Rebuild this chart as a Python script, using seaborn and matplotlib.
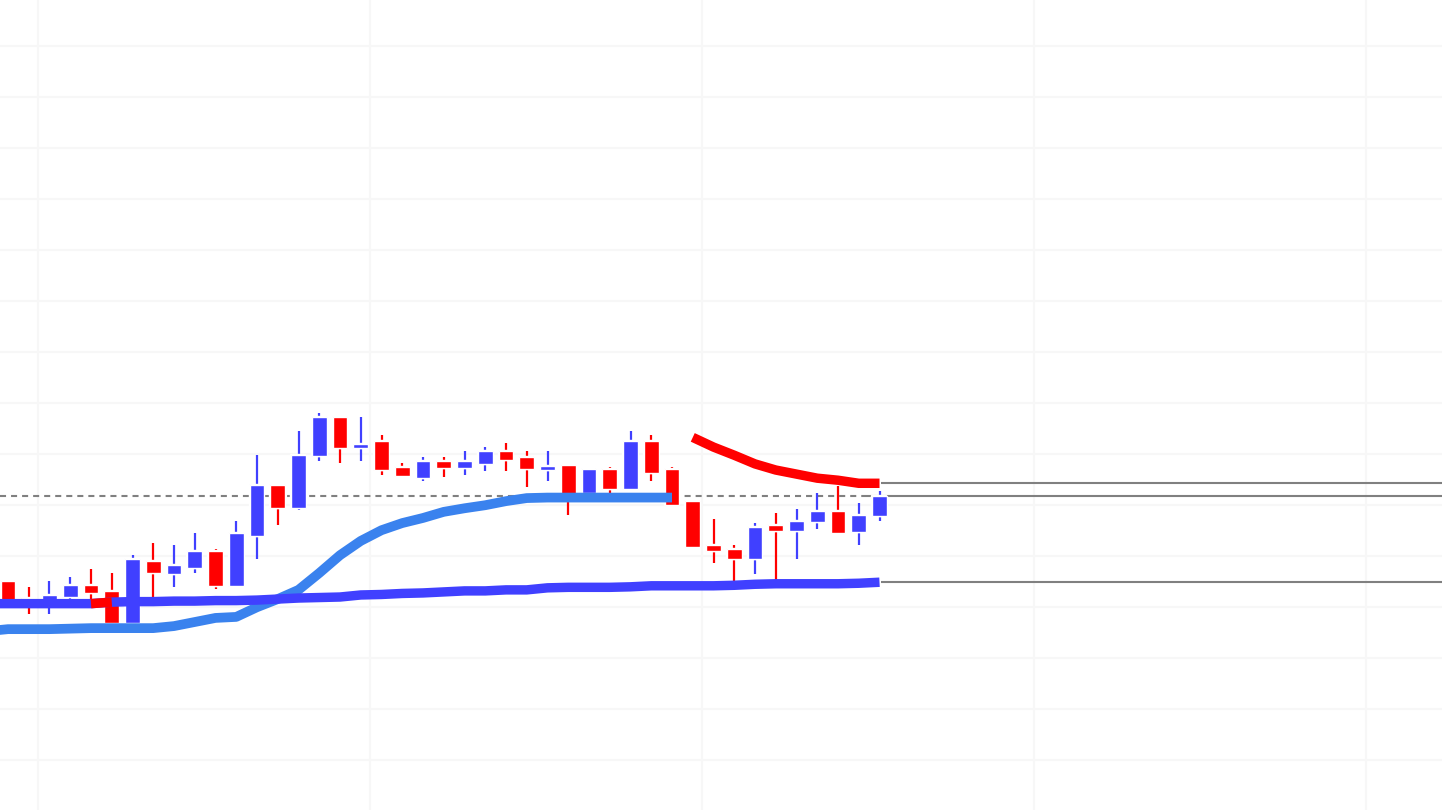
import numpy as np
import pandas as pd
import seaborn as sns
import matplotlib.pyplot as plt

# candles, oldest first
opens = [98.50, 98.17, 98.11, 98.19, 98.43, 98.31, 97.68, 98.90, 98.64, 98.76,
         99.09, 98.41, 99.39, 100.39, 99.94, 100.96, 101.72, 101.11, 101.25, 100.74,
         100.52, 100.86, 100.72, 100.80, 101.05, 100.94, 100.68, 100.78, 100.23, 100.70,
         100.31, 101.25, 100.70, 100.07, 99.21, 99.13, 98.94, 99.60, 99.48, 99.66,
         99.88, 99.46, 99.78]
highs = [98.50, 98.39, 98.50, 98.58, 98.74, 98.66, 99.01, 99.25, 99.21, 99.45,
         99.13, 99.68, 100.97, 100.39, 101.45, 101.80, 101.72, 101.72, 101.37, 100.82,
         100.94, 100.94, 101.05, 101.13, 101.21, 101.05, 101.05, 100.78, 100.70, 100.74,
         101.45, 101.37, 100.74, 100.07, 99.72, 99.21, 99.64, 99.84, 99.92, 100.23,
         100.37, 100.03, 100.27]
lows = [98.07, 97.86, 97.86, 98.13, 98.03, 97.68, 97.66, 98.19, 98.39, 98.66,
        98.35, 98.39, 98.94, 99.60, 99.90, 100.86, 100.82, 100.86, 100.58, 100.54,
        100.46, 100.54, 100.58, 100.66, 100.66, 100.35, 100.46, 99.80, 100.23, 100.23,
        100.31, 100.46, 99.99, 99.17, 98.86, 98.48, 98.64, 98.52, 98.94, 99.52,
        99.43, 99.21, 99.68]
closes = [98.07, 98.11, 98.23, 98.43, 98.27, 97.68, 98.94, 98.66, 98.82, 99.09,
          98.41, 99.45, 100.39, 99.94, 100.97, 101.72, 101.11, 101.19, 100.68, 100.56,
          100.86, 100.72, 100.86, 101.05, 100.88, 100.70, 100.76, 100.21, 100.70, 100.31,
          101.25, 100.62, 99.99, 99.17, 99.09, 98.94, 99.56, 99.48, 99.68, 99.88,
          99.45, 99.80, 100.17]

# slow average, starts one bar before the first visible candle
slow_ma = [98.06, 98.06, 98.06, 98.06, 98.06, 98.06, 98.09, 98.10, 98.10, 98.11,
           98.11, 98.12, 98.12, 98.13, 98.15, 98.17, 98.18, 98.19, 98.23, 98.24,
           98.26, 98.27, 98.29, 98.31, 98.31, 98.33, 98.33, 98.37, 98.38, 98.38,
           98.38, 98.39, 98.41, 98.41, 98.41, 98.41, 98.42, 98.44, 98.45, 98.45,
           98.45, 98.45, 98.46, 98.48]
ma_red_bars = [4, 5]

# trailing stop below price (uptrend), also from one bar before
trail_up = [97.52, 97.56, 97.56, 97.56, 97.57, 97.58, 97.58, 97.58, 97.58, 97.62,
            97.70, 97.78, 97.80, 97.99, 98.15, 98.33, 98.66, 99.01, 99.29, 99.50,
            99.64, 99.74, 99.86, 99.93, 99.99, 100.07, 100.13, 100.14, 100.14, 100.14,
            100.14, 100.14, 100.14, 100.14]
# trailing stop above price after the flip
trail_down = [101.32, 101.13, 100.97, 100.80, 100.68, 100.60, 100.52, 100.48, 100.42, 100.42]

BLUE = "#4040ff"
RED = "#ff0000"
LIGHT = "#3a82ee"
GRAY = "#808080"

sns.set_theme(style="whitegrid", rc={"grid.color": "#f7f7f7", "grid.linewidth": 1.5})

fig = plt.figure(figsize=(14.42, 8.10), dpi=100)
ax = fig.add_axes([0, 0, 1, 1])

xmin, xmax = -0.3855, 69.108
ymin, ymax = 94.014, 109.896
ax.set_xlim(xmin, xmax)
ax.set_ylim(ymin, ymax)
px_x = (xmax - xmin) / 1442
px_y = (ymax - ymin) / 810

n = len(closes)
idx = np.arange(n)
o = np.array(opens)
c = np.array(closes)
up = c >= o
body_lo = np.minimum(o, c)
body_h = np.abs(c - o)
w = 0.70

# last price line
last = closes[-1]
ax.hlines(last, xmin, n - 1.6, colors=GRAY, lw=1.5, linestyles=(0, (2.9, 2.4)), zorder=1)
ax.hlines(last, n - 1.6, xmax, colors=GRAY, lw=1.5, zorder=1)
ax.hlines([trail_down[-1], slow_ma[-1]], n - 1 + 0.05, xmax, colors=GRAY, lw=1.5, zorder=1)

# wicks
ax.vlines(idx[up], np.array(lows)[up], np.array(highs)[up], colors=BLUE, lw=1.6, zorder=2)
ax.vlines(idx[~up], np.array(lows)[~up], np.array(highs)[~up], colors=RED, lw=1.6, zorder=2)

# bodies with the thin top/left edge
ax.bar(idx[up] - px_x, body_h[up] + px_y, bottom=body_lo[up], width=w, color="#7c9a52", zorder=3)
ax.bar(idx[~up] - px_x, body_h[~up] + px_y, bottom=body_lo[~up], width=w, color="#b00000", zorder=3)
ax.bar(idx[up], body_h[up], bottom=body_lo[up], width=w, color=BLUE, zorder=3.1)
ax.bar(idx[~up], body_h[~up], bottom=body_lo[~up], width=w, color=RED, zorder=3.1)

# indicator lines
ma_df = pd.DataFrame({"bar": np.arange(-1, len(slow_ma) - 1), "val": slow_ma})
up_df = pd.DataFrame({"bar": np.arange(-1, len(trail_up) - 1), "val": trail_up})
dn_df = pd.DataFrame({"bar": np.arange(n - len(trail_down), n), "val": trail_down})

sns.lineplot(data=up_df, x="bar", y="val", color=LIGHT, linewidth=7.0,
             solid_capstyle="butt", ax=ax, legend=False, zorder=4)
sns.lineplot(data=ma_df, x="bar", y="val", color=BLUE, linewidth=6.8,
             solid_capstyle="butt", ax=ax, legend=False, zorder=4.1)
sns.lineplot(data=ma_df[ma_df["bar"].isin(ma_red_bars)], x="bar", y="val", color=RED,
             linewidth=6.8, solid_capstyle="butt", ax=ax, legend=False, zorder=4.2)
sns.lineplot(data=dn_df, x="bar", y="val", color=RED, linewidth=6.8,
             solid_capstyle="butt", ax=ax, legend=False, zorder=4.2)

ax.set_xticks(np.arange(1.446, xmax, 16))
ax.set_yticks(np.arange(95, 110, 1))
ax.tick_params(left=False, bottom=False, labelleft=False, labelbottom=False)
ax.set_xlabel("")
ax.set_ylabel("")
for s in ax.spines.values():
    s.set_visible(False)

fig.savefig("out.png", dpi=100)
